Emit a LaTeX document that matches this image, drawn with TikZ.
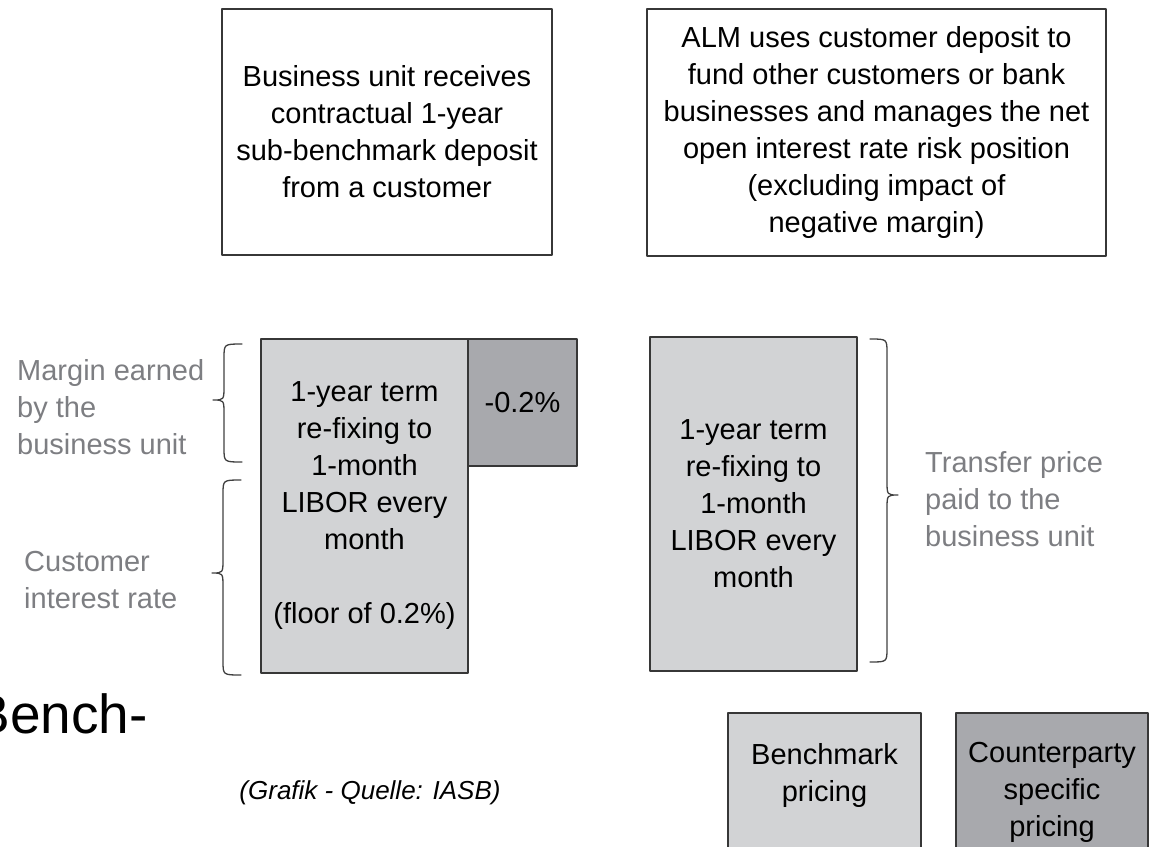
\documentclass[tikz,border=0pt]{standalone}
\usepackage{fontspec}
\setmainfont{Liberation Sans}
\usetikzlibrary{positioning}
\definecolor{boxlight}{RGB}{210,211,213}
\definecolor{boxdark}{RGB}{168,169,173}
\definecolor{labelgray}{RGB}{125,126,130}
\definecolor{rimgray}{RGB}{55,55,55}
\begin{document}
\begin{tikzpicture}[x=1pt,y=-1pt, line join=round, line cap=round,
	box/.style={draw=rimgray, line width=2pt, rectangle, inner sep=0pt, align=center, font=\fontsize{29}{37}\selectfont},
	txt/.style={inner sep=0pt, align=center, font=\fontsize{29}{37}\selectfont},
	side/.style={inner sep=0pt, align=left, anchor=west, text=labelgray, font=\fontsize{29}{37}\selectfont},
	curly/.style={draw=black!75, line width=1.3pt}]
		\useasboundingbox (0,0) rectangle (1155,846);
		\clip (0,0) rectangle (1155,846);
		% top row
		\node[box, minimum width=330pt, minimum height=246pt] (unit) at (387,132) {Business unit receives\\contractual 1-year\\sub-benchmark deposit\\from a customer};
		\node[box, minimum width=459pt, minimum height=247pt] (alm) at (876.5,132.5) {ALM uses customer deposit to\\fund other customers or bank\\businesses and manages the net\\open interest rate risk position\\(excluding impact of\\negative margin)};
		% middle row
		\node[box, fill=boxlight, minimum width=207pt, minimum height=334pt] (cust) at (364.5,506) {1-year term\\re-fixing to\\1-month\\LIBOR every\\month\\[37pt](floor of 0.2\%)};
		\node[box, fill=boxdark, minimum width=109pt, minimum height=127pt] (neg) at (522.5,402.5) {-0.2\%};
		\node[box, fill=boxlight, minimum width=207pt, minimum height=334pt] (ftp) at (753.5,504) {1-year term\\re-fixing to\\1-month\\LIBOR every\\month};
		%\draw[color=gray!50,dashed] (0,0) grid[step=50] (1155,846);
		\draw[curly] (242,344) .. controls (224,344) .. (224,358) -- (224,386) .. controls (224,400) .. (213,400) .. controls (224,400) .. (224,414) -- (224,448) .. controls (224,462) .. (242,462);
		\draw[curly] (241,480) .. controls (223,480) .. (223,494) -- (223,559) .. controls (223,573) .. (212,573) .. controls (223,573) .. (223,587) -- (223,661) .. controls (223,675) .. (241,675);
		\draw[curly] (870,339) .. controls (887,339) .. (887,353) -- (887,481) .. controls (887,495) .. (898,495) .. controls (887,495) .. (887,509) -- (887,648) .. controls (887,662) .. (870,662);
		\node[side] (margin) at (17,407) {Margin earned\\by the\\business unit};
		\node[side] (rate) at (24,580) {Customer\\interest rate};
		\node[side] (price) at (925,499) {Transfer price\\paid to the\\business unit};
		% bottom row
		\node[inner sep=0pt, anchor=base east, font=\fontsize{55}{60}\selectfont] (bench) at (148,733) {Bench-};
		\node[inner sep=0pt, font=\fontsize{26}{30}\selectfont\itshape] (source) at (370,793) {(Grafik - Quelle: IASB)};
		\node[box, fill=boxlight, minimum width=193pt, minimum height=200pt, anchor=north] (bm) at (824.5,712) {};
		\node[box, fill=boxdark, minimum width=192pt, minimum height=200pt, anchor=north] (cp) at (1052,712) {};
		\node[txt, below=31pt of bm.north] (bmtext) {Benchmark\\pricing};
		\node[txt, below=30pt of cp.north] (cptext) {Counterparty\\specific\\pricing};
\end{tikzpicture}
\end{document}
